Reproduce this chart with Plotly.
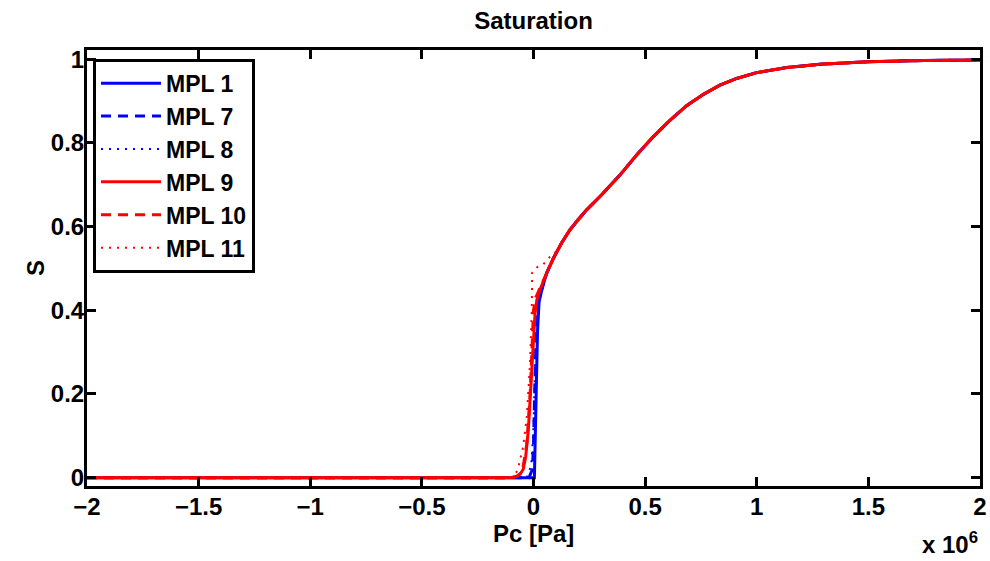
import plotly.graph_objects as go

# ---- data (Pc in Pa, S dimensionless) ----
# shared upper branch of the retention curve
main_pc = [0.06e6, 0.09e6, 0.125e6, 0.163e6, 0.2e6, 0.238e6, 0.3e6, 0.387e6, 0.462e6,
           0.537e6, 0.611e6, 0.686e6, 0.761e6, 0.835e6, 0.91e6, 1.0e6, 1.134e6,
           1.283e6, 1.5e6, 1.75e6, 2.0e6]
main_s = [0.49, 0.525, 0.56, 0.592, 0.617, 0.64, 0.673, 0.723, 0.771,
          0.815, 0.854, 0.889, 0.916, 0.938, 0.954, 0.968, 0.98,
          0.988, 0.994, 0.997, 0.998]

# low (entry) branches, one per model
mpl1_pc = [-2.0e6, -0.1e6, 0.0, 0.004e6, 0.012e6, 0.018e6, 0.025e6, 0.04e6]
mpl1_s = [0.0, 0.0, 0.0, 0.0, 0.2, 0.35, 0.42, 0.455]

mpl7_pc = [-2.0e6, -0.02e6, -0.005e6, 0.0, 0.005e6, 0.012e6, 0.02e6, 0.04e6]
mpl7_s = [0.0, 0.0, 0.02, 0.08, 0.2, 0.35, 0.42, 0.455]

mpl8_pc = [-2.0e6, -0.03e6, -0.01e6, 0.0, 0.006e6, 0.012e6, 0.025e6, 0.045e6]
mpl8_s = [0.0, 0.0, 0.03, 0.12, 0.25, 0.38, 0.44, 0.465]

mpl9_pc = [-2.0e6, -0.1e6, -0.075e6, -0.06e6, -0.046e6, -0.035e6, -0.023e6, -0.015e6,
           -0.008e6, 0.0, 0.007e6, 0.015e6, 0.029e6]
mpl9_s = [0.0, 0.0, 0.003, 0.008, 0.02, 0.05, 0.115, 0.19,
          0.274, 0.34, 0.393, 0.425, 0.449]

mpl10_pc = [-2.0e6, -0.1e6, -0.07e6, -0.05e6, -0.03e6, -0.015e6, -0.005e6, 0.0,
            0.01e6, 0.03e6]
mpl10_s = [0.0, 0.0, 0.004, 0.015, 0.08, 0.2, 0.33, 0.40, 0.43, 0.455]

mpl11_pc = [-2.0e6, -0.09e6, -0.07e6, -0.046e6, -0.03e6, -0.016e6, -0.008e6, -0.006e6,
            0.02e6, 0.044e6, 0.074e6, 0.1e6]
mpl11_s = [0.0, 0.0, 0.02, 0.075, 0.146, 0.27, 0.39, 0.49,
           0.505, 0.51, 0.528, 0.54]

x_tickvals = [-2e6, -1.5e6, -1e6, -0.5e6, 0, 0.5e6, 1e6, 1.5e6, 2e6]
x_ticktext = ["\u22122", "\u22121.5", "\u22121", "\u22120.5", "0", "0.5", "1", "1.5", "2"]
y_tickvals = [0, 0.2, 0.4, 0.6, 0.8, 1]
y_ticktext = ["0", "0.2", "0.4", "0.6", "0.8", "1"]

series = [
    ("MPL 1", mpl1_pc, mpl1_s, "#0000ff", "solid", 3),
    ("MPL 7", mpl7_pc, mpl7_s, "#0000ff", "10px,7px", 3),
    ("MPL 8", mpl8_pc, mpl8_s, "#0000ff", "2px,6px", 2),
    ("MPL 9", mpl9_pc, mpl9_s, "#ff0000", "solid", 3),
    ("MPL 10", mpl10_pc, mpl10_s, "#ff0000", "10px,7px", 3),
    ("MPL 11", mpl11_pc, mpl11_s, "#ff0000", "2px,6px", 2),
]

# upper branch starts after each low branch ends
fig = go.Figure()
for name, lx, ly, color, dash, w in series:
    xs = list(lx)
    ys = list(ly)
    for px_, sy in zip(main_pc, main_s):
        if px_ > xs[-1]:
            xs.append(px_)
            ys.append(sy)
    fig.add_trace(go.Scatter(x=xs, y=ys, mode="lines", name=name,
                             line=dict(color=color, dash=dash, width=w)))

FONT = "Liberation Sans, Arial, sans-serif"

axis_common = dict(showgrid=False, zeroline=False, showline=True, linewidth=3,
                   linecolor="black", mirror="ticks", ticks="inside", ticklen=9,
                   tickwidth=2.5, tickcolor="black", automargin=False)

fig.update_layout(
    width=990, height=561,
    margin=dict(l=87, r=10, t=50, b=75, autoexpand=False),
    paper_bgcolor="white", plot_bgcolor="white",
    font=dict(family=FONT, size=24, color="black", weight="bold"),
    title=dict(text="Saturation", x=0.5, xref="paper", xanchor="center",
               y=1 - 21 / 561, yref="container", yanchor="middle",
               font=dict(size=24, weight="bold")),
    showlegend=True,
    legend=dict(x=0.0067, y=0.98, xanchor="left", yanchor="top",
                bgcolor="white", bordercolor="black", borderwidth=3,
                font=dict(size=23, weight="bold"), tracegroupgap=0,
                itemwidth=60),
    xaxis=dict(range=[-2e6, 2e6], tickvals=x_tickvals, ticktext=x_ticktext,
               ticklabelstandoff=-3, **axis_common),
    yaxis=dict(range=[-0.02, 1.022], tickvals=y_tickvals, ticktext=y_ticktext,
               ticklabelstandoff=-5, **axis_common),
    annotations=[
        dict(text="Pc [Pa]", xref="paper", yref="paper", x=0.5, y=(486 - 533) / 436,
             xanchor="center", yanchor="middle", showarrow=False,
             font=dict(size=24, weight="bold")),
        dict(text="S", xref="paper", yref="paper", x=(35 - 87) / 893, y=0.5,
             xanchor="center", yanchor="middle", textangle=-90, showarrow=False,
             font=dict(size=24, weight="bold")),
        dict(text="x 10<sup>6</sup>", xref="paper", yref="paper",
             x=1.0, y=(486 - 526) / 436, xanchor="right", yanchor="top",
             showarrow=False, font=dict(size=24, weight="bold")),
    ],
)

fig.write_html("out.html", config={"displayModeBar": False},
               post_script="document.body.style.margin='0';")
